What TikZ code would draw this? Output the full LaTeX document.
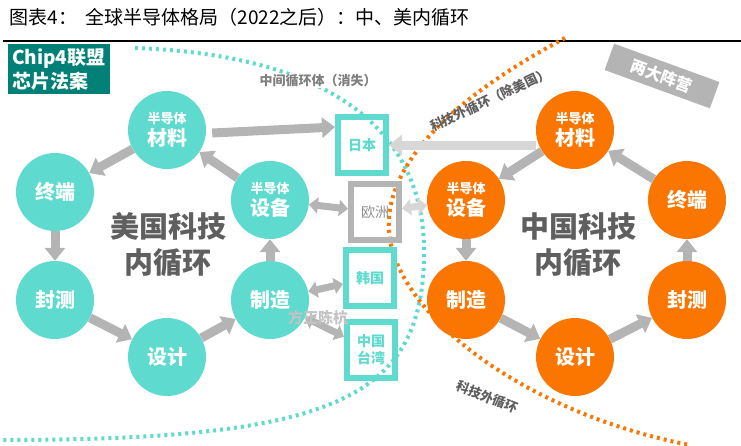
\documentclass[tikz,border=0pt]{standalone}
\usepackage{fontspec}
\setmainfont{Liberation Serif}
\newfontfamily\cjk{Noto Sans CJK SC}
\usetikzlibrary{arrows.meta,positioning,shapes.geometric}
\definecolor{tealc}{RGB}{94,218,206}
\definecolor{orangec}{RGB}{250,118,0}
\definecolor{greyc}{RGB}{180,180,180}
\definecolor{lightgreyc}{RGB}{215,215,215}
\definecolor{darkteal}{RGB}{0,128,118}
\definecolor{textgrey}{RGB}{95,95,95}
\newcommand\uptext{\cjk\bfseries\fontsize{13}{14}\selectfont}
\tikzset{
  usnode/.style  = {circle, fill=tealc, minimum size=78pt, inner sep=0pt,
                    text=white, align=center, font=\cjk\bfseries\fontsize{20}{22}\selectfont},
  cnnode/.style  = {usnode, fill=orangec},
  region/.style  = {rectangle, draw=tealc, line width=6pt, minimum width=48pt,
                    minimum height=56pt, text=tealc, align=center,
                    font=\cjk\bfseries\fontsize{14}{17}\selectfont},
  flow/.style    = {draw=greyc, line width=9pt, -{Triangle[length=13pt,width=20pt]}},
  both/.style    = {draw=greyc, line width=7pt, {Triangle[length=9pt,width=16pt]}-{Triangle[length=9pt,width=16pt]}},
  small/.style   = {font=\cjk\bfseries\fontsize{13}{14}\selectfont},
  bigtitle/.style= {align=center, text=textgrey, font=\cjk\bfseries\fontsize{29}{36}\selectfont}
}
\begin{document}
\begin{tikzpicture}[x=1pt,y=-1pt]
  \useasboundingbox (0,0) rectangle (741,445);
  % title and rule
  \node[anchor=west, font=\cjk\fontsize{19}{20}\selectfont] (title) at (6,17)
    {图表4：\ \ 全球半导体格局（2022之后）：中、美内循环};
  \draw[line width=2.5pt] (3,41) -- (741,41);
  \node[fill=darkteal, text=white, align=left, anchor=north west, inner sep=4pt,
        font=\cjk\bfseries\fontsize{19}{24}\selectfont] (chip) at (8,44) {Chip4联盟\\芯片法案};
  % dotted boundaries
  \draw[tealc, line width=4pt, dash pattern=on 3pt off 4pt]
    (135,48) .. controls (330,55) and (428,130) .. (424,260)
    .. controls (420,400) and (330,440) .. (0,440);
  \draw[orangec, line width=4pt, dash pattern=on 3pt off 4pt]
    (565,38) .. controls (430,110) and (360,190) .. (400,270)
    .. controls (440,350) and (560,420) .. (690,445);
  % US circles
  \node[usnode] (usmat) at (167,130) {{\uptext 半导体}\\材料};
  \node[usnode] (usend) at (55,192) {终端};
  \node[usnode] (ustest) at (55,300) {封测};
  \node[usnode] (usdes) at (167,357) {设计};
  \node[usnode] (usfab) at (270,300) {制造};
  \node[usnode] (useq) at (270,200) {{\uptext 半导体}\\设备};
  \node[bigtitle] (ustitle) at (168,245) {美国科技\\内循环};
  % China circles
  \node[cnnode] (cnmat) at (575,130) {{\uptext 半导体}\\材料};
  \node[cnnode] (cneq) at (466,200) {{\uptext 半导体}\\设备};
  \node[cnnode] (cnfab) at (466,300) {制造};
  \node[cnnode] (cndes) at (575,357) {设计};
  \node[cnnode] (cntest) at (687,300) {封测};
  \node[cnnode] (cnend) at (687,200) {终端};
  \node[bigtitle] (cntitle) at (578,245) {中国科技\\内循环};
  % regions
  \node[region] (japan) at (362,145) {日本};
  \node[region, draw=greyc, text=textgrey!70, font=\cjk\fontsize{14}{17}\selectfont] (europe) at (375,212) {欧洲};
  \node[region] (korea) at (370,278) {韩国};
  \node[region] (taiwan) at (371,350) {中国\\台湾};
  % US loop
  \draw[flow] (usmat) -- (usend);
  \draw[flow] (usend) -- (ustest);
  \draw[flow] (ustest) -- (usdes);
  \draw[flow] (usdes) -- (usfab);
  \draw[flow] (usfab) -- (useq);
  \draw[flow] (useq) -- (usmat);
  \draw[flow] ([xshift=6pt,yshift=-3pt]usmat.east) -- (japan.west |- {(0,127)});
  \draw[both] (useq) -- (europe);
  \draw[both] (usfab) -- (korea);
  \draw[both] (usfab) -- (taiwan);
  % China loop
  \draw[flow] (cnmat) -- (cneq);
  \draw[flow] (cneq) -- (cnfab);
  \draw[flow] (cnfab) -- (cndes);
  \draw[flow] (cndes) -- (cntest);
  \draw[flow] (cntest) -- (cnend);
  \draw[flow] (cnend) -- (cnmat);
  \draw[flow, draw=lightgreyc] (cnmat.west |- japan) -- (japan);
  \draw[both, draw=lightgreyc] (europe) -- (cneq);
  % labels
  \node[small, text=textgrey!80, fill=white, inner sep=1pt] (mid) at (318,81) {中间循环体（消失）};
  \node[small, text=textgrey, rotate=25] (outer1) at (490,100) {科技外循环（除美国）};
  \node[small, text=textgrey, rotate=-22] (outer2) at (487,397) {科技外循环};
  \node[fill=greyc, text=white, rotate=-20, minimum width=112pt, minimum height=28pt,
        font=\cjk\bfseries\fontsize{16}{17}\selectfont] (camps) at (662,76) {两大阵营};
  \node[text=greyc!80, font=\cjk\bfseries\fontsize{15}{16}\selectfont] (mark) at (318,318) {方正陈杭};
\end{tikzpicture}
\end{document}
